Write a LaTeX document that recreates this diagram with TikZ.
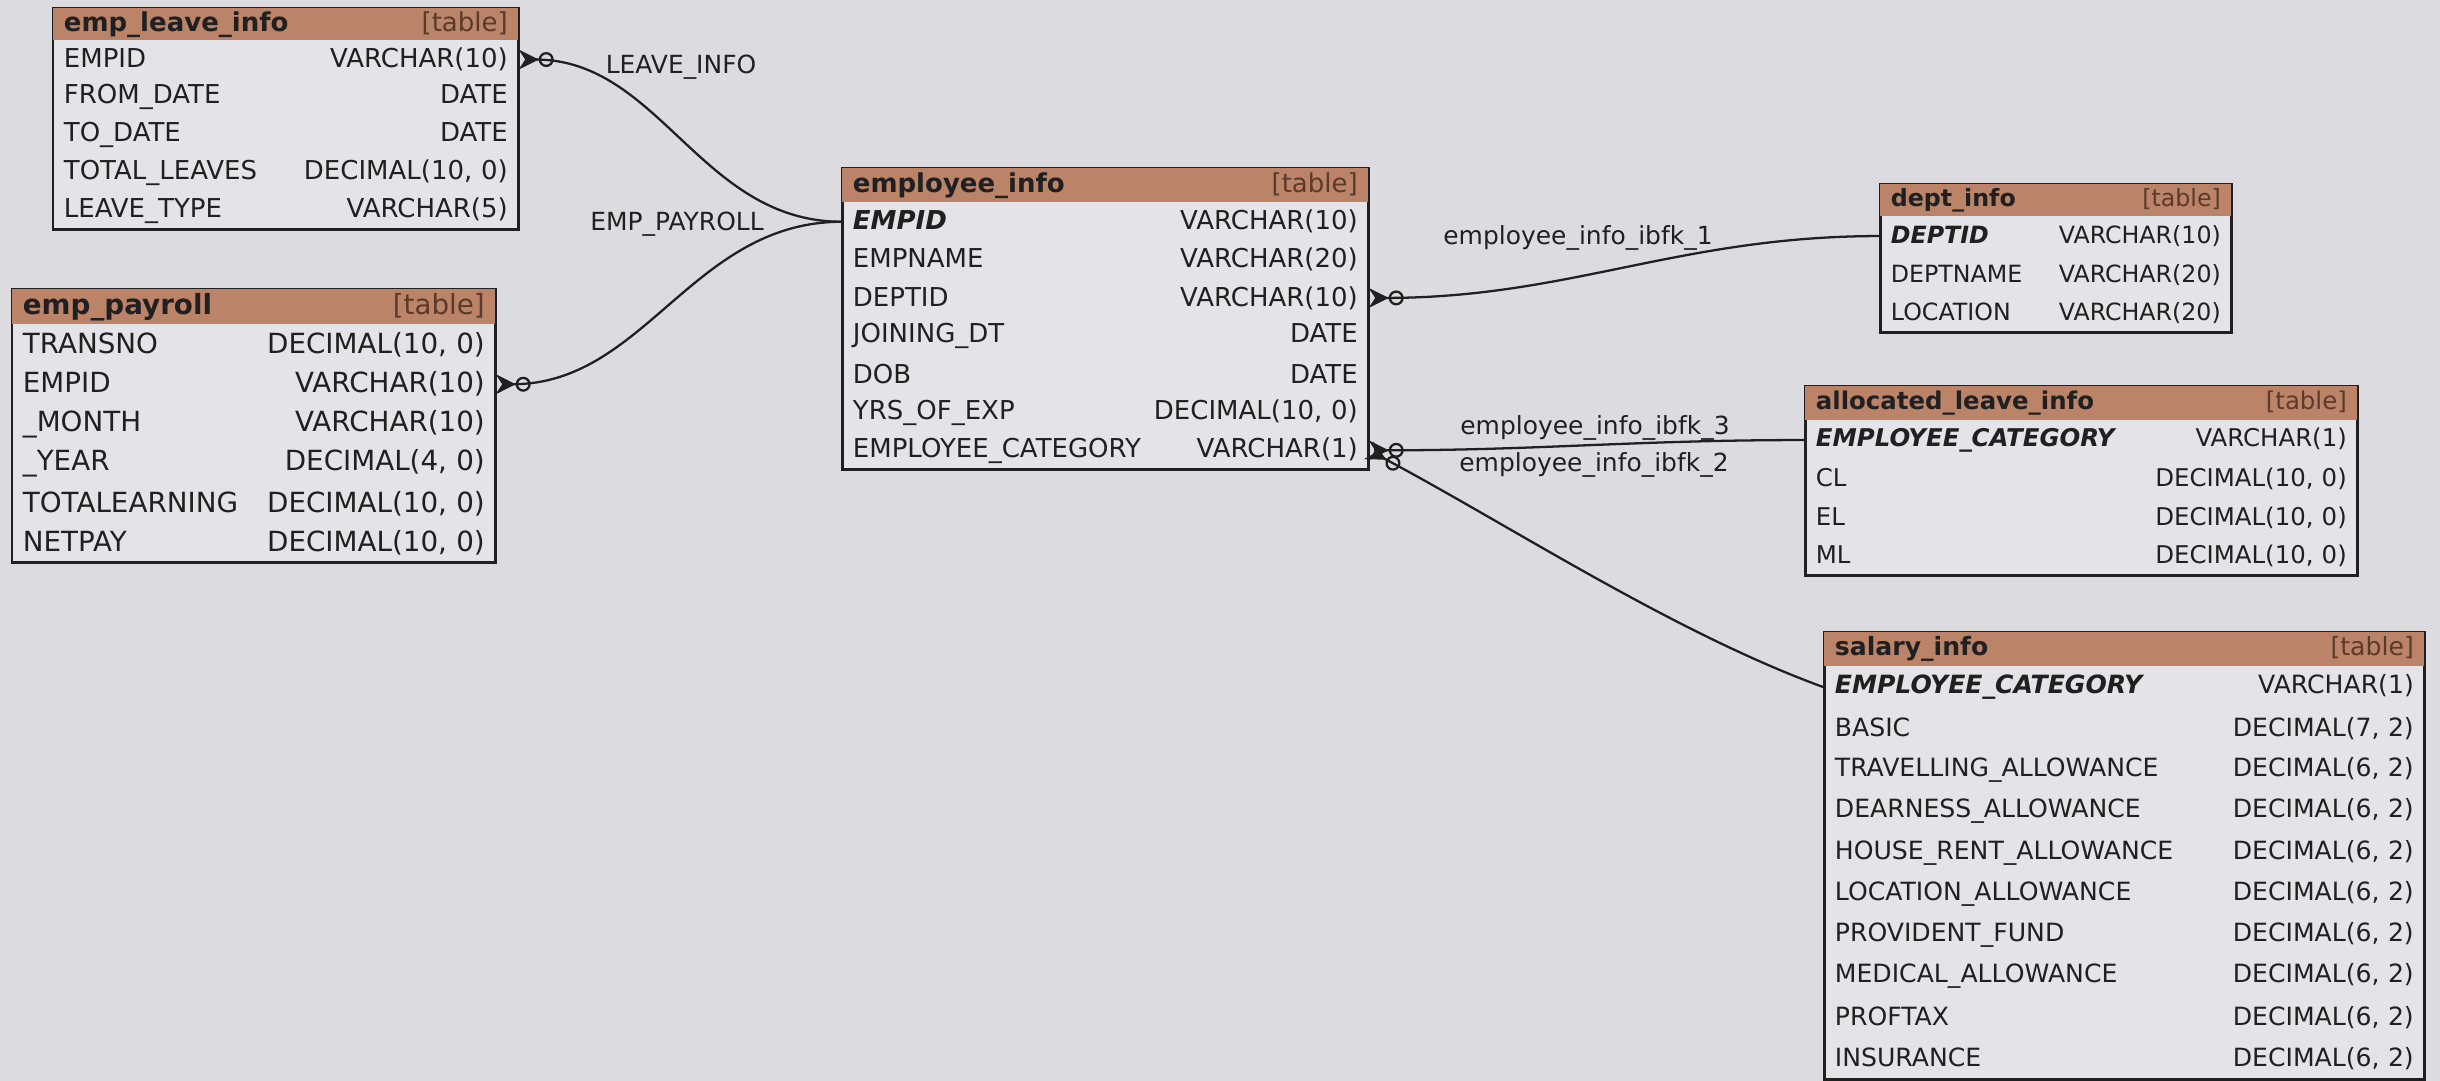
\documentclass[tikz,border=0pt]{standalone}
\usepackage{fontspec}
\setmainfont{DejaVu Sans}
\usepackage{xcolor}
\usetikzlibrary{positioning, arrows.meta, fit, backgrounds}

\definecolor{bgcol}{HTML}{DCDCE0}
\definecolor{bodycol}{HTML}{E4E4E8}
\definecolor{headbrown}{HTML}{BB8468}
\definecolor{tagcol}{HTML}{5A3A2A}
\definecolor{inkcol}{HTML}{202022}

\newcommand{\keyf}[1]{\textbf{\textit{#1}}}
\newcommand{\fsz}[1]{\fontsize{#1}{16}\selectfont}

\begin{document}
\begin{tikzpicture}[
    x=0.02cm, y=-0.02cm,
    font=\fsz{14.8}, text=inkcol,
    tabhead/.style 2 args={anchor=north west, fill=headbrown, inner xsep=6pt, inner ysep=0pt, text width=#1, minimum height=#2},
    tabrow/.style 2 args={inner xsep=6pt, inner ysep=0pt, text width=#1, minimum height=#2},
    tabframe/.style={draw=inkcol, fill=bodycol, line width=1.7pt, inner sep=0pt},
    conn/.style={draw=inkcol, line width=1.3pt},
    crow/.style={{Stealth[reversed, length=4mm, width=4mm] Circle[open, length=3mm, width=3mm]}-},
    fklabel/.style={inner sep=1pt, font=\fsz{14.2}}
  ]
    \useasboundingbox (0,0) rectangle (2440,1081);

    % emp_leave_info
    \node[tabhead={8.88cm}{0.64cm}] (leave-0) at (53,8) {\textbf{emp\_leave\_info}\hfill{\color{tagcol}[table]}};
    \foreach \n/\t [count=\i] in {EMPID/VARCHAR(10), FROM\_DATE/DATE, TO\_DATE/DATE,
        TOTAL\_LEAVES/{DECIMAL(10, 0)}, LEAVE\_TYPE/VARCHAR(5)} {
      \pgfmathtruncatemacro\j{\i-1}
      \node[tabrow={8.88cm}{0.74cm}, below=0pt of leave-\j] (leave-\i) {\n\hfill\t};
    }

    % emp_payroll
    \begin{scope}[font=\fsz{15.8}]
    \node[tabhead={9.24cm}{0.70cm}] (pay-0) at (12,289) {\textbf{emp\_payroll}\hfill{\color{tagcol}[table]}};
    \foreach \n/\t [count=\i] in {TRANSNO/{DECIMAL(10, 0)}, EMPID/VARCHAR(10), \_MONTH/VARCHAR(10),
        \_YEAR/{DECIMAL(4, 0)}, TOTALEARNING/{DECIMAL(10, 0)}, NETPAY/{DECIMAL(10, 0)}} {
      \pgfmathtruncatemacro\j{\i-1}
      \node[tabrow={9.24cm}{0.78cm}, below=0pt of pay-\j] (pay-\i) {\n\hfill\t};
    }
    \end{scope}

    % employee_info
    \node[tabhead={10.10cm}{0.68cm}] (emp-0) at (842,168) {\textbf{employee\_info}\hfill{\color{tagcol}[table]}};
    \foreach \n/\t [count=\i] in {\keyf{EMPID}/VARCHAR(10), EMPNAME/VARCHAR(20), DEPTID/VARCHAR(10),
        JOINING\_DT/DATE, DOB/DATE, YRS\_OF\_EXP/{DECIMAL(10, 0)}, EMPLOYEE\_CATEGORY/VARCHAR(1)} {
      \pgfmathtruncatemacro\j{\i-1}
      \node[tabrow={10.10cm}{0.748cm}, below=0pt of emp-\j] (emp-\i) {\n\hfill\t};
    }

    % dept_info
    \begin{scope}[font=\fsz{13.5}]
    \node[tabhead={6.60cm}{0.64cm}] (dept-0) at (1880,184) {\textbf{dept\_info}\hfill{\color{tagcol}[table]}};
    \foreach \n/\t [count=\i] in {\keyf{DEPTID}/VARCHAR(10), DEPTNAME/VARCHAR(20), LOCATION/VARCHAR(20)} {
      \pgfmathtruncatemacro\j{\i-1}
      \node[tabrow={6.60cm}{0.76cm}, below=0pt of dept-\j] (dept-\i) {\n\hfill\t};
    }
    \end{scope}

    % allocated_leave_info
    \begin{scope}[font=\fsz{13.9}]
    \node[tabhead={10.62cm}{0.68cm}] (alloc-0) at (1805,386) {\textbf{allocated\_leave\_info}\hfill{\color{tagcol}[table]}};
    \foreach \n/\t [count=\i] in {\keyf{EMPLOYEE\_CATEGORY}/VARCHAR(1), CL/{DECIMAL(10, 0)},
        EL/{DECIMAL(10, 0)}, ML/{DECIMAL(10, 0)}} {
      \pgfmathtruncatemacro\j{\i-1}
      \node[tabrow={10.62cm}{0.76cm}, below=0pt of alloc-\j] (alloc-\i) {\n\hfill\t};
    }
    \end{scope}

    % salary_info
    \begin{scope}[font=\fsz{14.3}]
    \node[tabhead={11.58cm}{0.68cm}] (sal-0) at (1824,632) {\textbf{salary\_info}\hfill{\color{tagcol}[table]}};
    \foreach \n/\t [count=\i] in {\keyf{EMPLOYEE\_CATEGORY}/VARCHAR(1), BASIC/{DECIMAL(7, 2)},
        TRAVELLING\_ALLOWANCE/{DECIMAL(6, 2)}, DEARNESS\_ALLOWANCE/{DECIMAL(6, 2)},
        HOUSE\_RENT\_ALLOWANCE/{DECIMAL(6, 2)}, LOCATION\_ALLOWANCE/{DECIMAL(6, 2)},
        PROVIDENT\_FUND/{DECIMAL(6, 2)}, MEDICAL\_ALLOWANCE/{DECIMAL(6, 2)},
        PROFTAX/{DECIMAL(6, 2)}, INSURANCE/{DECIMAL(6, 2)}} {
      \pgfmathtruncatemacro\j{\i-1}
      \node[tabrow={11.58cm}{0.812cm}, below=0pt of sal-\j] (sal-\i) {\n\hfill\t};
    }
    \end{scope}

    % table frames, behind the rows
    \begin{scope}[on background layer]
      \fill[bgcol] (0,0) rectangle (2440,1081);
      \node[tabframe, fit=(leave-0)(leave-5)] (leave) {};
      \node[tabframe, fit=(pay-0)(pay-6)] (pay) {};
      \node[tabframe, fit=(emp-0)(emp-7)] (emp) {};
      \node[tabframe, fit=(dept-0)(dept-3)] (dept) {};
      \node[tabframe, fit=(alloc-0)(alloc-4)] (alloc) {};
      \node[tabframe, fit=(sal-0)(sal-10)] (sal) {};
    \end{scope}

    % relation names
    \node[fklabel] (lbl-leave) at (681,67) {LEAVE\_INFO};
    \node[fklabel] (lbl-pay) at (677,224) {EMP\_PAYROLL};
    \node[fklabel] (lbl-fk1) at (1578,238) {employee\_info\_ibfk\_1};
    \node[fklabel] (lbl-fk3) at (1595,428) {employee\_info\_ibfk\_3};
    \node[fklabel] (lbl-fk2) at (1594,465) {employee\_info\_ibfk\_2};

    % foreign keys
    \draw[conn, crow] (leave-1.east) to[out=0, in=180] (emp-1.west);
    \draw[conn, crow] (pay-2.east) to[out=0, in=180] (emp-1.west);
    \draw[conn, crow] (emp-3.east) to[out=0, in=180] (dept-1.west);
    \draw[conn, crow] (emp-7.east) to[out=0, in=180] (alloc-1.west);
    \draw[conn, crow] (emp-7.east) to[out=-28, in=160, looseness=0.8] (sal-1.west);
  \end{tikzpicture}
\end{document}
